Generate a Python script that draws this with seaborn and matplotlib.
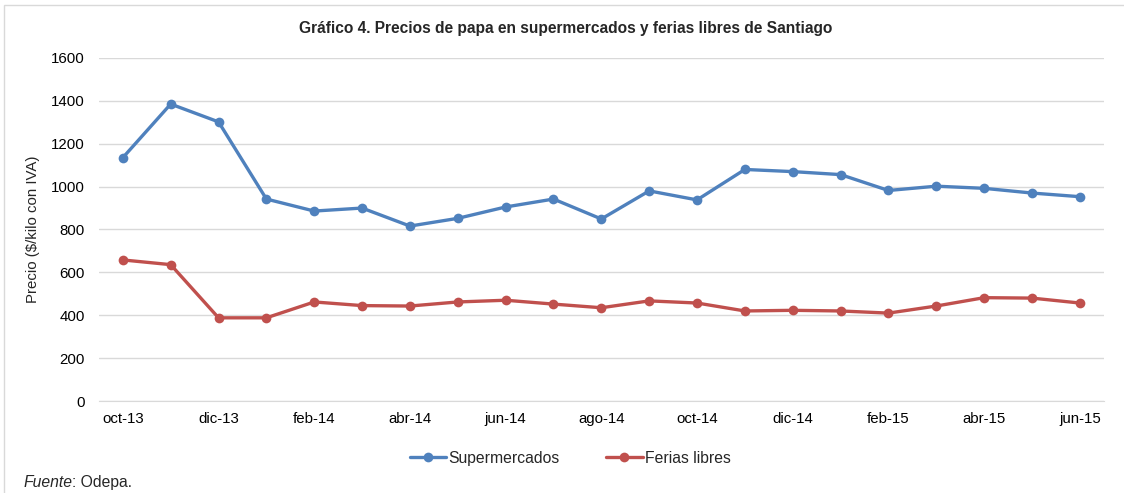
import matplotlib.pyplot as plt
import pandas as pd
import seaborn as sns
from matplotlib.patches import Rectangle

# monthly prices, oct-13 .. jun-15
months = ["oct-13", "nov-13", "dic-13", "ene-14", "feb-14", "mar-14", "abr-14",
          "may-14", "jun-14", "jul-14", "ago-14", "sep-14", "oct-14", "nov-14",
          "dic-14", "ene-15", "feb-15", "mar-15", "abr-15", "may-15", "jun-15"]
supermercados = [1135, 1385, 1302, 942, 886, 900, 816, 852, 905, 942, 849, 980,
                 938, 1080, 1070, 1056, 982, 1002, 992, 970, 953]
ferias = [658, 636, 388, 388, 462, 445, 443, 462, 470, 452, 435, 467, 457, 420,
          423, 420, 410, 443, 482, 480, 457]
tick_labels = months[::2]

df = pd.DataFrame({"mes": months, "Supermercados": supermercados, "Ferias libres": ferias})
df["pos"] = range(len(months))
melted = df.melt(id_vars=["mes", "pos"], var_name="serie", value_name="precio")

sns.set_style("white")
plt.rcParams["font.family"] = ["Liberation Sans", "DejaVu Sans"]

fig = plt.figure(figsize=(11.24, 4.93), dpi=100)
ax = fig.add_axes([0.088, 0.1866, 0.894, 0.6958])

palette = {"Supermercados": "#4F81BD", "Ferias libres": "#C0504D"}
sns.lineplot(data=melted, x="pos", y="precio", hue="serie", palette=palette,
             marker="o", markersize=7, markeredgewidth=0, linewidth=2.4, ax=ax)

ax.set_xlim(-0.5, len(months) - 0.5)
ax.set_ylim(0, 1600)
ax.set_yticks(range(0, 1601, 200))
ax.set_xticks(range(0, len(months), 2))
ax.set_xticklabels(tick_labels)
ax.tick_params(axis="both", labelsize=10.8, length=0, colors="#000000")
ax.tick_params(axis="x", pad=8)
ax.tick_params(axis="y", pad=10)
ax.grid(axis="y", color="#D9D9D9", linewidth=1)
ax.set_axisbelow(True)
for s in ["top", "right", "left"]:
    ax.spines[s].set_visible(False)
ax.spines["bottom"].set_color("#D9D9D9")
ax.set_xlabel(None)
ax.set_ylabel("Precio (\\$/kilo con IVA)", fontsize=10.8, labelpad=8)

fig.text(0.503, 1 - 28 / 493, "Gráfico 4. Precios de papa en supermercados y ferias libres de Santiago",
         fontsize=11.2, fontweight="bold", ha="center", va="center")

leg = ax.legend(loc="upper center", bbox_to_anchor=(0.469, -0.104), ncol=2, frameon=False,
                fontsize=11.3, handlelength=2.3, handletextpad=0.15, columnspacing=3.0)

t = fig.text(0.0205, 0.012, "Fuente", fontsize=11.3, style="italic")
ax.annotate(": Odepa.", xy=(1, 0), xycoords=t, va="bottom", fontsize=11.3)

fig.patches.append(Rectangle((4 / 1124, -0.05), 1.1, 1.05 - 5 / 493, transform=fig.transFigure,
                             fill=False, edgecolor="#D9D9D9", linewidth=1))

fig.savefig("out.png", dpi=100)
